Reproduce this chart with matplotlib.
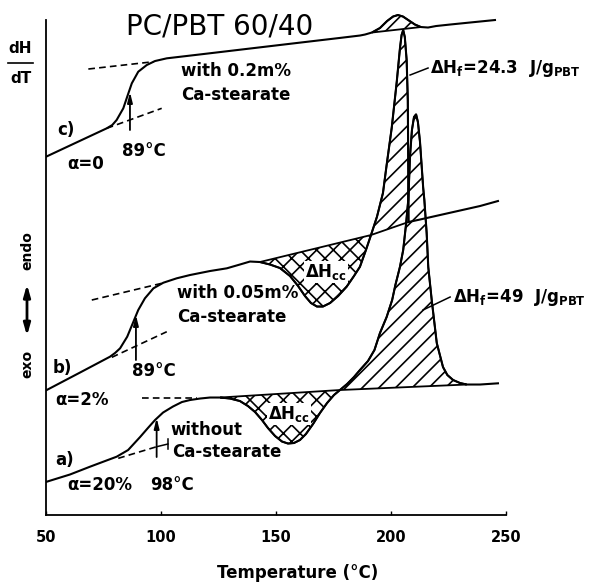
import matplotlib.pyplot as plt
import numpy as np

plt.rcParams['font.family'] = ['DejaVu Sans']
plt.rcParams['mathtext.default'] = 'regular'
plt.rcParams['hatch.linewidth'] = 1.2

# curve c) with 0.2 m% Ca-stearate  (temperature in degC, signal in a.u.)
c_T = [50.0, 63.0, 76.4, 78.8, 80.7, 83.6, 85.3, 87.3, 90.1, 93.8, 97.4, 102.5, 117.0,
       138.7, 160.4, 177.8, 186.5, 188.7, 191.7, 195.2, 198.3, 200.9, 203.0, 205.2,
       207.8, 210.4, 213.0, 216.1, 219.6, 225.7, 234.3, 245.2]
c_H = [358.3, 372.3, 386.7, 390.0, 395.0, 406.7, 418.3, 431.7, 443.3, 450.0, 454.0, 456.7, 460.6,
       466.5, 472.4, 477.1, 479.5, 480.5, 482.5, 487.0, 494.0, 498.5, 500.0, 498.5,
       494.5, 490.5, 488.0, 487.5, 489.0, 490.5, 492.5, 495.0]

# curve b) with 0.05 m% Ca-stearate
b_T = [50.3, 64.8, 77.8, 80.0, 82.2, 85.3, 88.0, 90.1, 93.0, 96.7, 101.0, 106.8, 112.6,
       121.3, 128.6, 134.3, 138.7, 143.0, 147.4, 151.7, 156.1, 159.6, 162.6, 165.2,
       167.8, 170.4, 173.5, 177.0, 180.7, 183.9, 186.5, 189.1, 191.3, 193.9, 196.5,
       198.1, 200.3, 202.5, 203.9, 204.6, 205.3, 206.0, 206.8, 207.3, 207.5, 207.6,
       212.6, 221.3, 230.0, 238.7, 246.5]
b_H = [125.0, 142.5, 158.3, 162.0, 166.7, 178.3, 193.3, 205.0, 216.7, 226.7, 232.3, 236.7, 240.0,
       244.0, 246.7, 250.5, 253.5, 253.0, 250.5, 247.0, 239.0, 229.0, 219.0, 212.0,
       208.5, 208.5, 212.0, 219.0, 228.3, 239.0, 248.3, 265.0, 280.0, 298.3, 322.0,
       350.0, 387.0, 433.3, 467.0, 480.0, 485.0, 478.0, 455.0, 415.0, 350.0, 293.0,
       295.5, 300.0, 304.5, 309.0, 314.0]

# curve a) without Ca-stearate
a_T = [50.3, 60.4, 69.1, 75.7, 80.7, 85.7, 90.9, 94.3, 97.4, 100.9, 105.2, 109.1,
       112.6, 117.0, 121.3, 125.7, 130.0, 134.3, 137.8, 140.9, 143.9, 146.5, 149.6,
       152.6, 155.2, 157.8, 160.4, 163.0, 166.1, 169.1, 172.2, 175.2, 177.8, 180.9,
       183.9, 186.5, 190.0, 192.8, 195.2, 198.1, 200.5, 201.9, 203.0, 203.9, 205.3,
       206.5, 207.5, 208.3, 209.1, 210.0, 210.9, 211.7, 212.6, 214.0, 214.5, 215.5,
       216.2, 217.7, 219.9, 222.6, 224.5, 227.0, 230.0, 232.9, 238.7, 246.5]
a_H = [33.3, 40.5, 48.3, 54.0, 58.3, 65.0, 78.0, 87.0, 95.0, 102.5, 108.5, 113.0,
       115.0, 116.5, 117.5, 117.5, 116.5, 114.0, 109.0, 103.0, 95.0, 87.0, 79.0,
       73.5, 71.5, 72.0, 75.0, 81.0, 91.0, 102.0, 112.0, 120.0, 125.0, 131.0,
       138.0, 145.0, 154.0, 165.0, 182.0, 198.0, 215.0, 230.0, 240.0, 248.3, 265.0,
       290.0, 315.0, 360.0, 385.0, 398.0, 400.7, 393.0, 373.3, 327.0, 315.0, 282.0,
       248.0, 215.0, 172.0, 148.0, 140.0, 135.0, 132.0, 130.5, 130.5, 131.7]

# hatched areas (temperature limits)
c_melt = (191.7, 213.0)
b_cold = (143.0, 191.3)
b_melt = (191.3, 207.6)
a_cold = (125.7, 177.8)
a_melt = (177.8, 232.9)

# tangent construction lines ((T1, T2), (H1, H2))
tangents = [
    ((68.4, 96.7), (446.0, 453.3)),
    ((76.4, 100.3), (386.7, 406.7)),
    ((69.9, 100.3), (215.0, 231.7)),
    ((78.6, 102.5), (157.7, 183.3)),
    ((91.6, 115.5), (116.7, 116.7)),
    ((81.4, 98.1), (56.7, 68.3)),
]

# glass transition arrows: T, from, to
tg_arrows = [(86.5, 385, 423), (89.1, 155, 200), (98.1, 58, 97)]

fig = plt.figure(figsize=(5.96, 5.83), dpi=100)
ax = fig.add_axes([0.0772, 0.1166, 0.7718, 0.8662])
ax.set_xlim(50, 250)
ax.set_ylim(0, 505)

lw = 1.5
for T, H in [(c_T, c_H), (b_T, b_H), (a_T, a_H)]:
    ax.plot(T, H, color='k', lw=lw, zorder=3)


def hatch_area(T, H, lim, pattern):
    T = np.asarray(T)
    H = np.asarray(H)
    m = (T >= lim[0]) & (T <= lim[1])
    ax.fill(T[m], H[m], facecolor='none', edgecolor='k', hatch=pattern,
            lw=1.3, zorder=2)


hatch_area(c_T, c_H, c_melt, '//')
hatch_area(b_T, b_H, b_cold, 'xx')
hatch_area(b_T, b_H, b_melt, '//')
hatch_area(a_T, a_H, a_cold, 'xx')
hatch_area(a_T, a_H, a_melt, '//')

for xs, ys in tangents:
    ax.plot(xs, ys, color='k', lw=1.2, dashes=(4, 2.5), zorder=3)

for t, y0, y1 in tg_arrows:
    ax.annotate('', xy=(t, y1), xytext=(t, y0),
                arrowprops=dict(arrowstyle='-|>,head_width=0.15,head_length=0.6',
                                color='k', lw=1.3, shrinkA=0, shrinkB=0))

# leader lines
ax.plot([98.1, 103.0], [68.3, 71.0], color='k', lw=1.1)
ax.plot([103.0, 103.0], [66.0, 76.0], color='k', lw=1.1)
ax.plot([208.3, 216.1], [440.0, 447.0], color='k', lw=1.1, clip_on=False)
ax.plot([213.9, 225.7], [205.0, 218.0], color='k', lw=1.1, clip_on=False)

txt = dict(fontsize=12, fontweight='bold', va='center', ha='left')
ax.text(125.7, 489, 'PC/PBT 60/40', fontsize=20, ha='center', va='center')
ax.text(108.7, 444, 'with 0.2m%', **txt)
ax.text(108.7, 420, 'Ca-stearate', **txt)
ax.text(54.8, 385, 'c)', **txt)
ax.text(59.1, 351, 'α=0', **txt)
ax.text(83.0, 364, '89°C', **txt)
ax.text(107.0, 222, 'with 0.05m%', **txt)
ax.text(107.0, 198, 'Ca-stearate', **txt)
ax.text(53.0, 147, 'b)', **txt)
ax.text(53.9, 115, 'α=2%', **txt)
ax.text(87.4, 144, '89°C', **txt)
ax.text(103.9, 85, 'without', **txt)
ax.text(104.8, 63, 'Ca-stearate', **txt)
ax.text(53.9, 55, 'a)', **txt)
ax.text(59.1, 30, 'α=20%', **txt)
ax.text(95.2, 30, '98°C', **txt)
bb = dict(fc='white', ec='none', pad=0.5)
ax.text(162.6, 243, 'ΔH$_{cc}$', bbox=bb, zorder=4, **txt)
ax.text(146.5, 101, 'ΔH$_{cc}$', bbox=bb, zorder=4, **txt)
ax.text(217.0, 447, 'ΔH$_f$=24.3  J/g$_{PBT}$', **txt)
ax.text(227.0, 218, 'ΔH$_f$=49  J/g$_{PBT}$', **txt)

for s in ['top', 'right']:
    ax.spines[s].set_visible(False)
ax.spines['left'].set_linewidth(1.3)
ax.spines['bottom'].set_linewidth(1.3)
ax.spines['left'].set_bounds(0, 495)
ax.set_yticks([])
ax.set_xticks([50, 100, 150, 200, 250])
ax.tick_params(axis='x', direction='in', length=3, width=1, pad=11,
               labelsize=10.5)
for lab in ax.get_xticklabels():
    lab.set_fontweight('bold')

fig.text(0.5, 0.017, 'Temperature (°C)', fontsize=12, fontweight='bold',
         ha='center', va='center')

# y label: dH / dT and exo <-> endo
fig.text(0.0344, 0.916, 'dH', fontsize=11, fontweight='bold', ha='center', va='center')
fig.add_artist(plt.Line2D([0.0134, 0.0554], [0.8924, 0.8924], color='k', lw=1.2))
fig.text(0.0344, 0.8645, 'dT', fontsize=11, fontweight='bold', ha='center', va='center')
fig.text(0.0453, 0.5695, 'endo', fontsize=10, fontweight='bold', rotation=90,
         ha='center', va='center')
fig.text(0.0453, 0.3756, 'exo', fontsize=10, fontweight='bold', rotation=90,
         ha='center', va='center')
ax.annotate('', xy=(0.0453, 0.512), xytext=(0.0453, 0.424), xycoords='figure fraction',
            textcoords='figure fraction',
            arrowprops=dict(arrowstyle='<|-|>,head_width=0.2,head_length=0.7',
                            color='k', lw=2, shrinkA=0, shrinkB=0))

fig.savefig('out.png', dpi=100)
